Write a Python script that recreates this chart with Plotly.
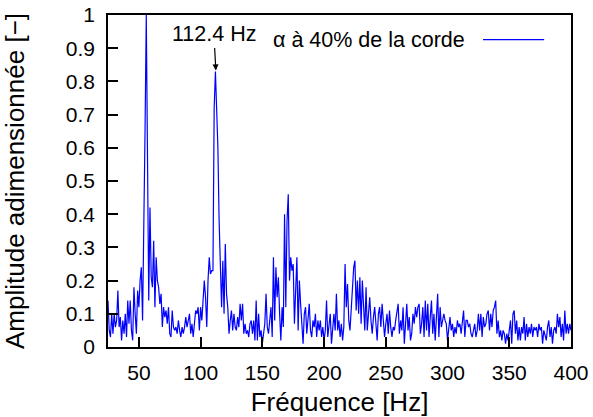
import plotly.graph_objects as go


FREQ = list(range(25, 401))

AMPLITUDE = [
    0.14, 0.05, 0.03, 0.10, 0.04, 0.10, 0.06, 0.08, 0.17, 0.06, 0.09, 0.02, 0.08, 0.04, 0.10, 0.03,
    0.14, 0.07, 0.14, 0.05, 0.02, 0.18, 0.10, 0.04, 0.17, 0.12,
    0.20, 0.24, 0.08, 0.33, 0.65, 1.00, 0.48, 0.14, 0.42, 0.21,
    0.18, 0.32, 0.12, 0.27, 0.20, 0.18, 0.13, 0.16, 0.06, 0.12,
    0.09, 0.11, 0.07, 0.12, 0.04, 0.03, 0.11, 0.06, 0.05, 0.06,
    0.04, 0.08, 0.05, 0.03, 0.06, 0.04, 0.06, 0.09, 0.06, 0.08,
    0.10, 0.04, 0.07, 0.03, 0.08, 0.11, 0.10, 0.12, 0.05, 0.12,
    0.08, 0.15, 0.20, 0.15, 0.06, 0.20, 0.27, 0.22, 0.23, 0.23,
    0.72, 0.83, 0.70, 0.60, 0.38, 0.22, 0.12, 0.26, 0.10, 0.31,
    0.16, 0.12, 0.04, 0.08, 0.11, 0.05, 0.10, 0.06, 0.05, 0.09,
    0.06, 0.13, 0.08, 0.13, 0.04, 0.07, 0.04, 0.05, 0.03, 0.07,
    0.08, 0.04, 0.08, 0.02, 0.14, 0.02, 0.10, 0.03, 0.05, 0.01,
    0.05, 0.07, 0.16, 0.06, 0.04, 0.08, 0.12, 0.03, 0.27, 0.08,
    0.24, 0.15, 0.21, 0.10, 0.02, 0.12, 0.06, 0.40, 0.12, 0.38,
    0.46, 0.20, 0.27, 0.23, 0.25, 0.07, 0.16, 0.27, 0.05, 0.20,
    0.13, 0.05, 0.01, 0.10, 0.12, 0.04, 0.09, 0.13, 0.05, 0.03,
    0.08, 0.06, 0.10, 0.03, 0.08, 0.05, 0.08, 0.03, 0.06, 0.02,
    0.05, 0.14, 0.03, 0.07, 0.10, 0.01, 0.06, 0.10, 0.05, 0.16,
    0.05, 0.08, 0.03, 0.07, 0.02, 0.06, 0.25, 0.12, 0.19, 0.08,
    0.05, 0.12, 0.18, 0.24, 0.26, 0.11, 0.20, 0.10, 0.21, 0.07,
    0.20, 0.10, 0.05, 0.18, 0.05, 0.10, 0.15, 0.08, 0.04, 0.09,
    0.12, 0.07, 0.02, 0.10, 0.12, 0.06, 0.13, 0.08, 0.03, 0.07,
    0.10, 0.04, 0.11, 0.06, 0.03, 0.06, 0.05, 0.08, 0.10, 0.13,
    0.04, 0.08, 0.05, 0.12, 0.01, 0.06, 0.13, 0.05, 0.09, 0.02,
    0.04, 0.10, 0.07, 0.12, 0.09, 0.12, 0.13, 0.04, 0.07, 0.12,
    0.03, 0.14, 0.05, 0.13, 0.03, 0.09, 0.14, 0.04, 0.10, 0.02,
    0.08, 0.16, 0.03, 0.12, 0.06, 0.08, 0.10, 0.08, 0.07, 0.02,
    0.06, 0.09, 0.05, 0.07, 0.03, 0.06, 0.04, 0.08, 0.06, 0.07,
    0.04, 0.07, 0.11, 0.03, 0.08, 0.08, 0.06, 0.07, 0.04, 0.03,
    0.05, 0.07, 0.03, 0.05, 0.10, 0.05, 0.10, 0.03, 0.09, 0.06,
    0.07, 0.10, 0.11, 0.05, 0.10, 0.06, 0.11, 0.12, 0.14, 0.04,
    0.08, 0.03, 0.05, 0.02, 0.05, 0.04, 0.01, 0.04, 0.02, 0.05,
    0.08, 0.01, 0.10, 0.11, 0.04, 0.08, 0.02, 0.06, 0.02, 0.06,
    0.04, 0.09, 0.02, 0.07, 0.03, 0.06, 0.04, 0.07, 0.03, 0.06,
    0.05, 0.06, 0.03, 0.07, 0.05, 0.06, 0.01, 0.05, 0.03, 0.02,
    0.06, 0.08, 0.03, 0.06, 0.01, 0.05, 0.06, 0.04, 0.10, 0.06,
    0.09, 0.03, 0.07, 0.02, 0.11, 0.04, 0.07, 0.04, 0.07, 0.05,
]

X_TICKS = [50, 100, 150, 200, 250, 300, 350, 400]
Y_TICKS = [0, 0.1, 0.2, 0.3, 0.4, 0.5, 0.6, 0.7, 0.8, 0.9, 1]

PIC_FREQ = 112.4
PIC_AMPL = 0.83

LEGENDE = "α à 40% de la corde"
BLEU = "#0000ff"
POLICE = "Liberation Sans, Arial, sans-serif"


def main():

    fig = go.Figure()

    fig.add_trace(
        go.Scatter(
            x=FREQ,
            y=AMPLITUDE,
            mode="lines",
            line_color=BLEU,
            line_width=1.2,
            showlegend=False,
        )
    )

    fig.update_xaxes(
        range=[25, 400],
        tickvals=X_TICKS,
        ticks="inside",
        ticklen=10,
        tickwidth=1.5,
        tickcolor="#000000",
        tickfont_size=21,
        showline=True,
        linecolor="#000000",
        linewidth=1.5,
        mirror=True,
        showgrid=False,
        zeroline=False,
        automargin=False,
        ticklabelstandoff=6,
        title_text="Fréquence [Hz]",
        title_standoff=10,
    )

    fig.update_yaxes(
        range=[0, 1],
        tickvals=Y_TICKS,
        ticks="inside",
        ticklen=10,
        tickwidth=1.5,
        tickcolor="#000000",
        tickfont_size=21,
        showline=True,
        linecolor="#000000",
        linewidth=1.5,
        mirror=True,
        showgrid=False,
        zeroline=False,
        automargin=False,
        ticklabelstandoff=7,
        title_text="Amplitude adimensionnée [−]",
        title_standoff=36,
    )

    fig.update_layout(
        width=593,
        height=417,
        margin=dict(l=108, r=22, t=15, b=70),
        plot_bgcolor="#ffffff",
        paper_bgcolor="#ffffff",
        font=dict(family=POLICE, size=21.5, color="#000000"),
        showlegend=False,
        annotations=[
            # Pic à 112.4 Hz avec sa flèche.
            dict(
                x=PIC_FREQ,
                y=PIC_AMPL,
                xref="x",
                yref="y",
                text="112.4 Hz",
                showarrow=True,
                arrowhead=2,
                arrowsize=1,
                arrowwidth=1.2,
                arrowcolor="#000000",
                ax=-2,
                ay=-37,
                standoff=1,
            ),
            # Légende à la manière de gnuplot (texte puis trait).
            dict(
                x=0.775,
                y=0.926,
                xref="paper",
                yref="paper",
                xanchor="right",
                yanchor="middle",
                text=LEGENDE,
                showarrow=False,
            ),
        ],
        shapes=[
            dict(
                type="line",
                xref="paper",
                yref="paper",
                x0=0.81,
                x1=0.942,
                y0=0.926,
                y1=0.926,
                line=dict(color=BLEU, width=1.2),
            ),
        ],
    )

    # On retire la marge par défaut du <body> et la barre d'outils.
    fig.write_html(
        "out.html",
        config={"displayModeBar": False},
        post_script="document.body.style.margin = '0';",
    )


if __name__ == "__main__":

    main()
